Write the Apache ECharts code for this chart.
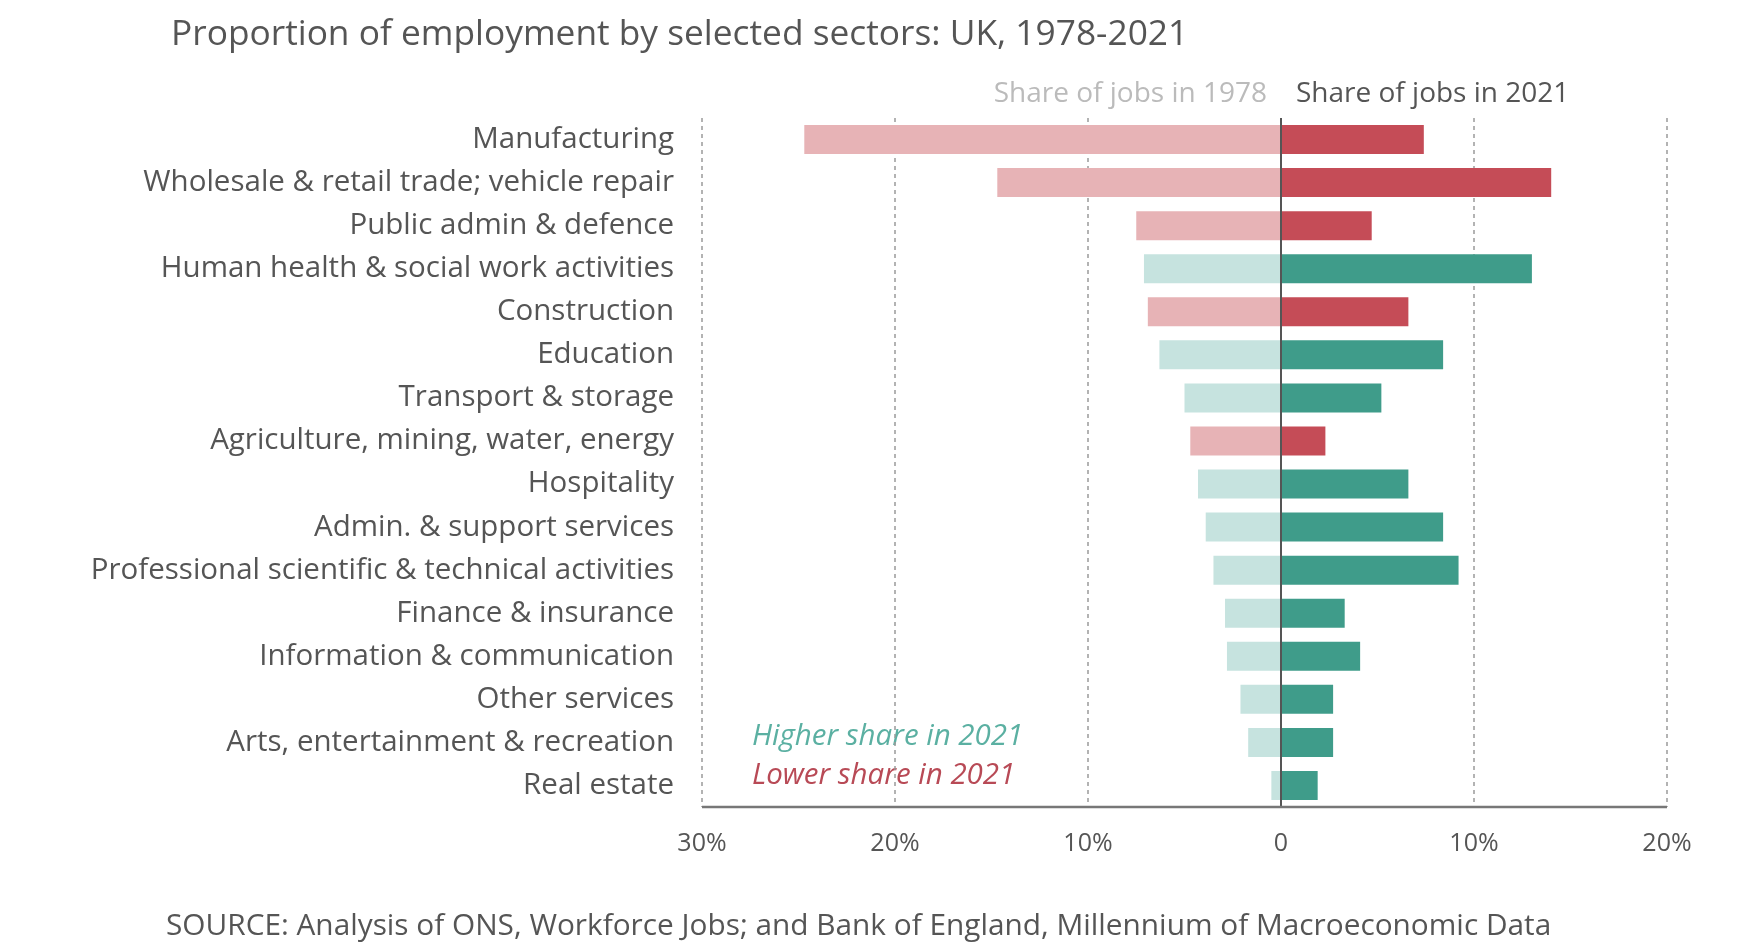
<!DOCTYPE html>
<html>
<head>
<meta charset="utf-8">
<script src="https://cdn.jsdelivr.net/npm/echarts@6/dist/echarts.min.js"></script>
<style>
html,body{margin:0;padding:0;background:#fff;}
#chart{width:1751px;height:952px;}
</style>
</head>
<body>
<div id="chart"></div>
<script>
const categories = [
  'Manufacturing',
  'Wholesale & retail trade; vehicle repair',
  'Public admin & defence',
  'Human health & social work activities',
  'Construction',
  'Education',
  'Transport & storage',
  'Agriculture, mining, water, energy',
  'Hospitality',
  'Admin. & support services',
  'Professional scientific & technical activities',
  'Finance & insurance',
  'Information & communication',
  'Other services',
  'Arts, entertainment & recreation',
  'Real estate'
];
const share1978 = [24.7, 14.7, 7.5, 7.1, 6.9, 6.3, 5.0, 4.7, 4.3, 3.9, 3.5, 2.9, 2.8, 2.1, 1.7, 0.5];
const share2021 = [7.4, 14.0, 4.7, 13.0, 6.6, 8.4, 5.2, 2.3, 6.6, 8.4, 9.2, 3.3, 4.1, 2.7, 2.7, 1.9];
const xTicks = [-30, -20, -10, 0, 10, 20];

const teal = '#3f9c8a', tealLight = '#c6e3df';
const red = '#c54c57', redLight = '#e7b3b6';
const txt = '#555555';
const fontFamily = '"Open Sans", Lato, sans-serif';

const higher = share2021.map((v, i) => v > share1978[i]);

const chart = echarts.init(document.getElementById('chart'));
chart.setOption({
  backgroundColor: '#ffffff',
  animation: false,
  textStyle: {fontFamily: fontFamily},
  title: {
    text: 'Proportion of employment by selected sectors: UK, 1978-2021',
    left: 166, top: 12,
    textStyle: {fontFamily: fontFamily, fontSize: 35.3, fontWeight: 'normal', color: txt}
  },
  grid: {left: 702, right: 84, top: 118, bottom: 145, containLabel: false},
  xAxis: {
    type: 'value', min: xTicks[0], max: xTicks[xTicks.length - 1], interval: 10,
    axisLine: {show: false},
    axisTick: {show: false},
    axisLabel: {
      color: txt, fontSize: 25, margin: 24, fontFamily: fontFamily,
      formatter: v => v === 0 ? '0' : Math.abs(v) + '%'
    },
    splitLine: {show: true, lineStyle: {color: '#9a9a9a', type: [4, 4], width: 1.5}}
  },
  yAxis: {
    type: 'category', data: categories, inverse: true,
    axisLine: {show: false},
    axisTick: {show: false},
    axisLabel: {color: txt, fontSize: 29.5, margin: 28, fontFamily: fontFamily}
  },
  series: [
    {
      name: 'Share of jobs in 1978', type: 'bar', barWidth: 29, barGap: '-100%',
      data: share1978.map((v, i) => ({value: -v, itemStyle: {color: higher[i] ? tealLight : redLight}})),
      z: 2
    },
    {
      name: 'Share of jobs in 2021', type: 'bar', barWidth: 29, barGap: '-100%',
      data: share2021.map((v, i) => ({value: v, itemStyle: {color: higher[i] ? teal : red}})),
      z: 3,
      markLine: {
        silent: true, symbol: 'none', label: {show: false},
        lineStyle: {color: '#555', type: 'solid', width: 2},
        data: [{xAxis: 0}],
        z: 5
      }
    }
  ],
  graphic: [
    {type: 'line', shape: {x1: 702, y1: 807, x2: 1667, y2: 807}, style: {stroke: '#777', lineWidth: 2.5}, z: 10},
    {type: 'text', right: 1751 - 1267, top: 80, style: {text: 'Share of jobs in 1978', fill: '#bbbbbb', font: '28px ' + fontFamily, textAlign: 'right'}},
    {type: 'text', left: 1296, top: 80, style: {text: 'Share of jobs in 2021', fill: txt, font: '28px ' + fontFamily}},
    {type: 'text', left: 752, top: 722, style: {text: 'Higher share in 2021', fill: '#5bb0a2', font: 'italic 29.5px ' + fontFamily}},
    {type: 'text', left: 752, top: 761, style: {text: 'Lower share in 2021', fill: '#b84a56', font: 'italic 29.5px ' + fontFamily}},
    {type: 'text', left: 166, top: 912, style: {text: 'SOURCE: Analysis of ONS, Workforce Jobs; and Bank of England, Millennium of Macroeconomic Data', fill: txt, font: '29.8px ' + fontFamily}}
  ]
});
</script>
</body>
</html>
